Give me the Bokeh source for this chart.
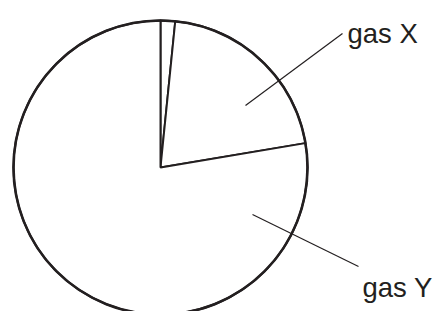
import numpy as np
from bokeh.plotting import figure
from bokeh.models import Range1d
from bokeh.core.properties import value
from bokeh.embed import file_html
from bokeh.resources import INLINE

# Data (percent shares)
categories = ["other", "gas X", "gas Y"]
shares = [1.6, 20.75, 77.65]
labels = ["gas X", "gas Y"]

# Layout (screen pixel coordinates, y down)
W, H = 438, 311
OFF = 0
cx, cy, R = 160, 167, 147

p = figure(width=W, height=H, output_backend="svg", toolbar_location=None,
           x_range=Range1d(OFF, OFF + W), y_range=Range1d(-(OFF + H), -OFF),
           min_border=0, outline_line_color=None)
p.axis.visible = False
p.grid.visible = False
p.background_fill_color = "white"
p.border_fill_color = "white"

fr = np.array(shares) / sum(shares)
cum = np.concatenate([[0], np.cumsum(fr)])
start = np.pi / 2 - cum[:-1] * 2 * np.pi
end = np.pi / 2 - cum[1:] * 2 * np.pi

p.wedge(x=cx, y=-cy, radius=R, start_angle=start, end_angle=end,
        direction="clock", fill_color="white", line_color="#231f20",
        line_width=2.0)
p.circle(x=cx, y=-cy, radius=R, fill_color=None, line_color="#231f20",
         line_width=2.6)

# leader lines
p.segment(x0=[245, 252], y0=[-105, -214], x1=[342, 358], y1=[-33, -266],
          line_color="#231f20", line_width=1.2)

p.text(x=[347, 362], y=[-33, -287], text=labels,
       text_font=value("Liberation Sans"), text_font_size="27.5px",
       text_color="#231f20", text_baseline="alphabetic", text_align="left")

open("out.html", "w").write(file_html(p, INLINE))
